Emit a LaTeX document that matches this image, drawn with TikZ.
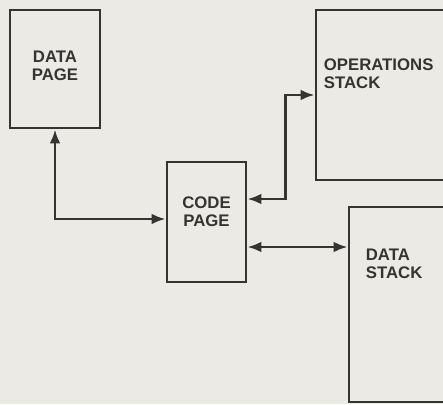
\documentclass[tikz,border=0pt]{standalone}
\usepackage{fontspec}
\setmainfont{Liberation Sans}
\usetikzlibrary{arrows.meta}
\definecolor{paper}{RGB}{236,234,229}
\definecolor{ink}{RGB}{52,52,50}

\begin{document}
\begin{tikzpicture}[every node/.style={align=center},
    pagebox/.style={draw=ink,line width=2.3pt,inner sep=0pt},
    lbl/.style={text=ink,inner sep=0pt,font=\fontsize{14.3}{15.5}\selectfont\bfseries},
    link/.style={{Latex[length=4.2mm,width=3.2mm]}-{Latex[length=4.2mm,width=3.2mm]},draw=ink,line width=2.3pt}]
    \fill[paper] (0,0) rectangle (13.29,12.12);
    \clip (0,0) rectangle (13.29,12.12);
    % memory areas
    \node[pagebox,minimum width=2.70cm,minimum height=3.54cm] (datapage) at (1.65,10.05) {};
    \node[pagebox,minimum width=2.37cm,minimum height=3.60cm] (codepage) at (6.195,5.46) {};
    \node[pagebox,minimum width=4.32cm,minimum height=5.10cm] (opstack) at (11.64,9.27) {};
    \node[pagebox,minimum width=3.33cm,minimum height=5.85cm] (datastack) at (12.135,2.985) {};
    % labels
    \node[lbl] (datapagetext) at ([yshift=0.09cm]datapage.center) {DATA\\PAGE};
    \node[lbl] (codepagetext) at ([yshift=0.3cm]codepage.center) {CODE\\PAGE};
    \node[lbl,align=left,anchor=north west] (opstacktext)
      at ([xshift=0.27cm,yshift=-1.5cm]opstack.north west) {OPERATIONS\\STACK};
    \node[lbl,align=left,anchor=north west] (datastacktext)
      at ([xshift=0.54cm,yshift=-1.29cm]datastack.north west) {DATA\\STACK};
    % connections
    \coordinate (cpup) at ([yshift=0.69cm]codepage.east);
    \coordinate (cpdown) at ([yshift=-0.75cm]codepage.east);
    \draw[link] (datapage.south) |- ([yshift=0.09cm]codepage.west);
    \draw[link] (cpup) -- ++(1.14,0) |- (opstack.west);
    \draw[link] (cpdown) -- (cpdown -| datastack.west);
  \end{tikzpicture}
\end{document}
